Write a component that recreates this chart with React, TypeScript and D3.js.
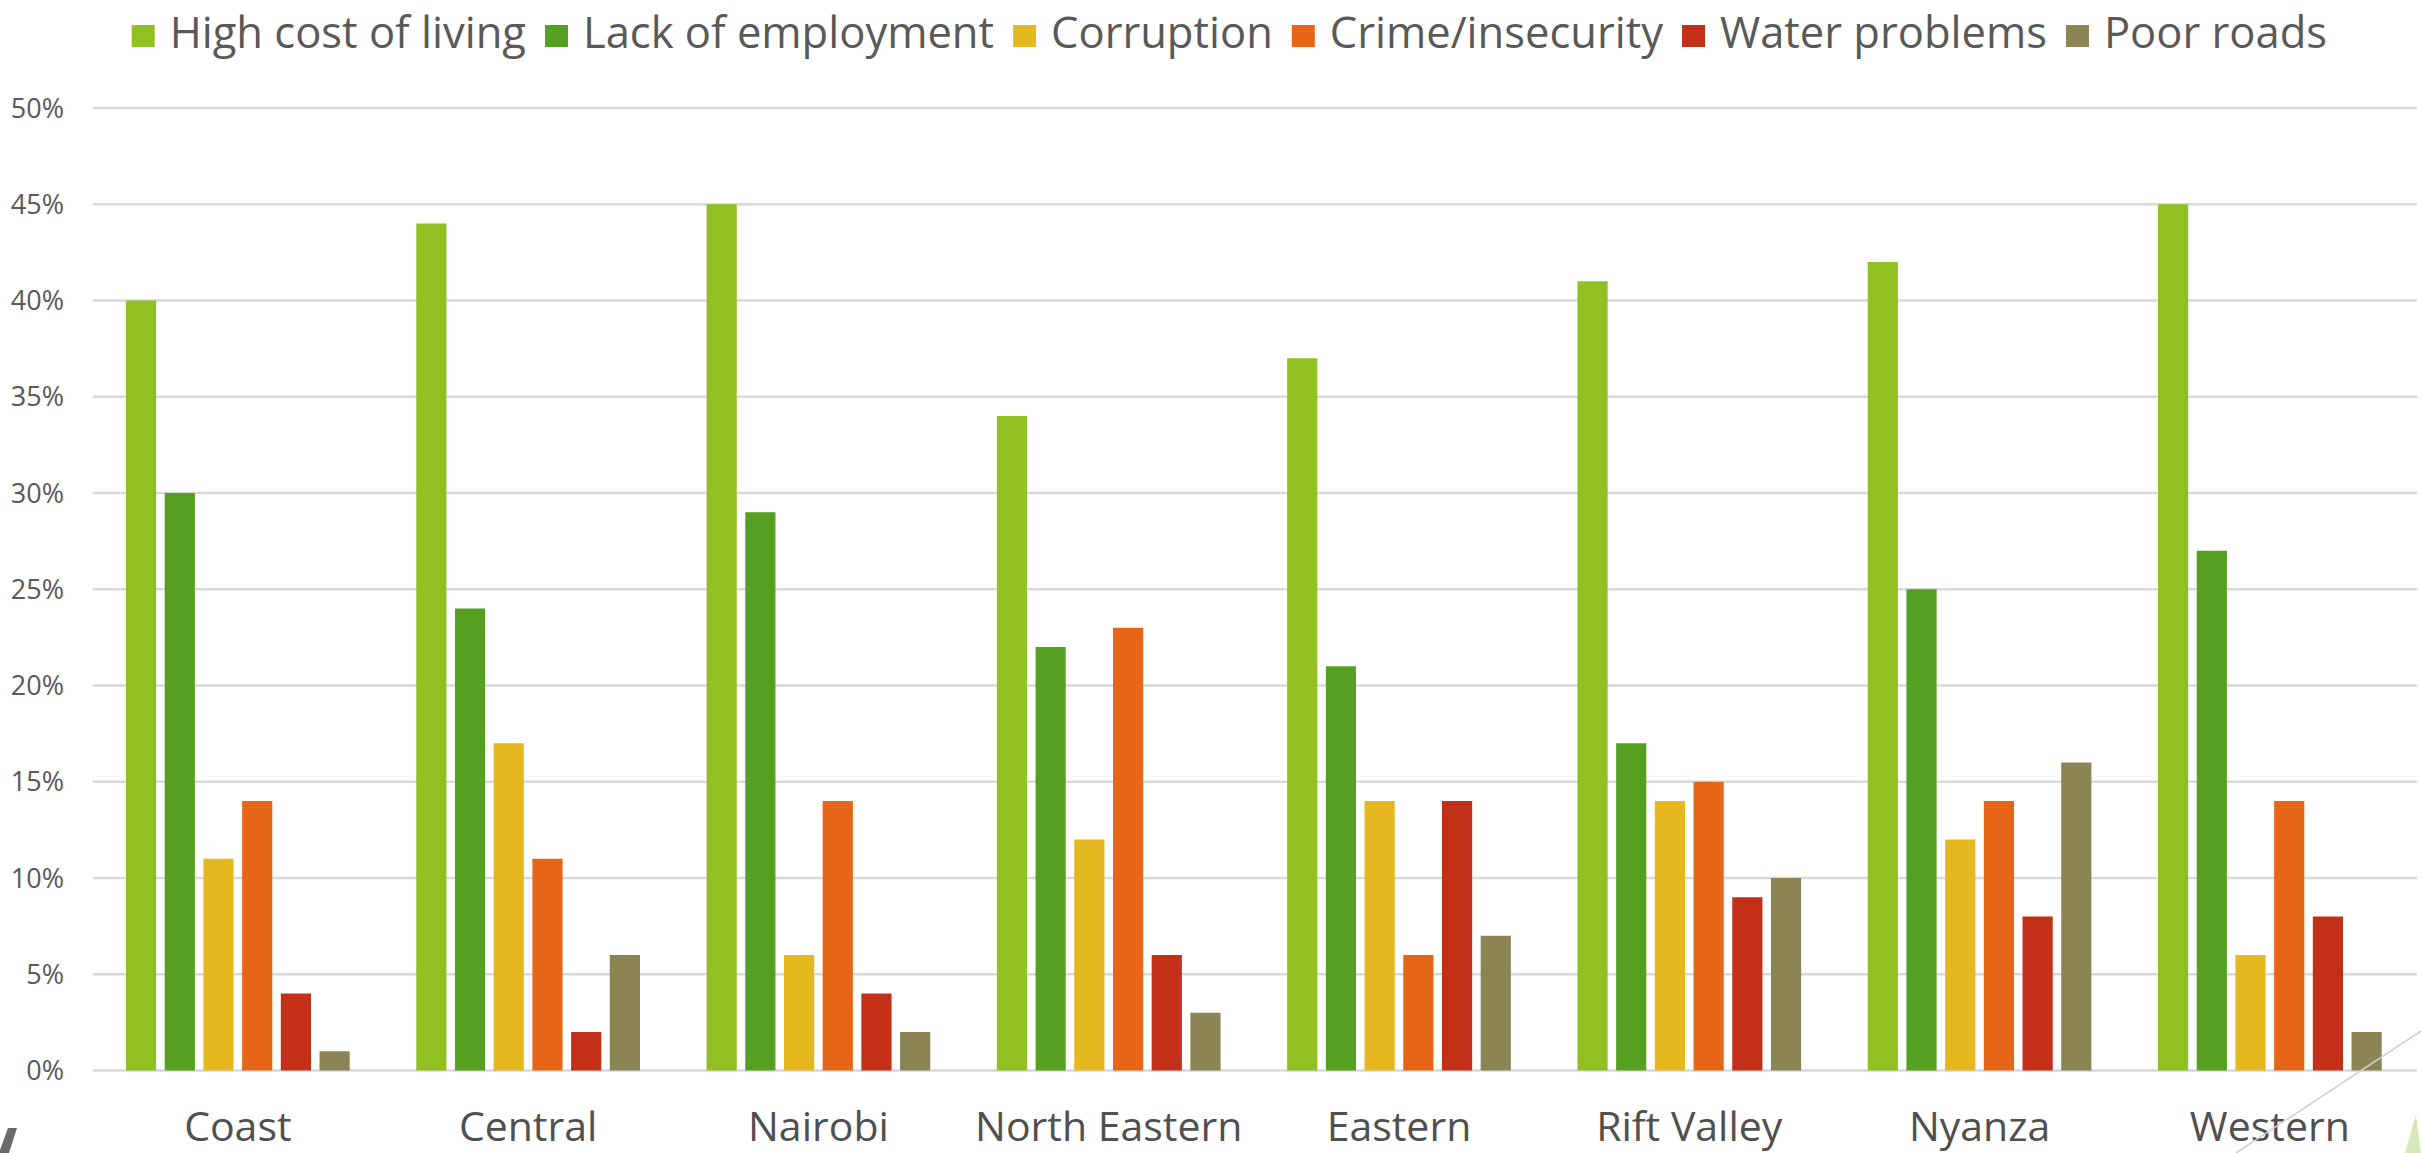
import React, { useEffect, useRef } from 'react';
import * as d3 from 'd3';

const regions = ['Coast', 'Central', 'Nairobi', 'North Eastern', 'Eastern', 'Rift Valley', 'Nyanza', 'Western'];
const seriesNames = ['High cost of living', 'Lack of employment', 'Corruption', 'Crime/insecurity', 'Water problems', 'Poor roads'];
const highCostOfLiving = [40, 44, 45, 34, 37, 41, 42, 45];
const lackOfEmployment = [30, 24, 29, 22, 21, 17, 25, 27];
const corruption = [11, 17, 6, 12, 14, 14, 12, 6];
const crimeInsecurity = [14, 11, 14, 23, 6, 15, 14, 14];
const waterProblems = [4, 2, 4, 6, 14, 9, 8, 8];
const poorRoads = [1, 6, 2, 3, 7, 10, 16, 2];
const yTicks = [0, 5, 10, 15, 20, 25, 30, 35, 40, 45, 50];
const seriesColors = ['#91c023', '#55a021', '#e6b820', '#e66618', '#c42f19', '#8b8455'];

const seriesValues = [highCostOfLiving, lackOfEmployment, corruption, crimeInsecurity, waterProblems, poorRoads];

const W = 2421;
const H = 1153;
const FONT = "'Open Sans', 'DejaVu Sans', sans-serif";

export default function App() {
  const ref = useRef<SVGSVGElement | null>(null);

  useEffect(() => {
    document.body.style.margin = '0';
    const svg = d3.select(ref.current);
    svg.selectAll('*').remove();

    const left = 92.7;
    const right = 2417;
    const x0 = d3.scaleBand<string>().domain(regions).range([left, 2415]).paddingInner(0.2).paddingOuter(0.1);
    const x1 = d3.scaleBand<string>().domain(seriesNames).range([0, x0.bandwidth()]).paddingInner(0.22).paddingOuter(0.11);
    const y = d3.scaleLinear().domain([0, 50]).range([1070.5, 108]);

    svg.append('rect').attr('width', W).attr('height', H).attr('fill', '#ffffff');

    // gridlines
    svg.append('g')
      .selectAll('line')
      .data(yTicks)
      .join('line')
      .attr('x1', left)
      .attr('x2', right)
      .attr('y1', (d) => y(d))
      .attr('y2', (d) => y(d))
      .attr('stroke', '#d9d9d9')
      .attr('stroke-width', 2.5);

    // y tick labels
    svg.append('g')
      .selectAll('text')
      .data(yTicks)
      .join('text')
      .attr('x', 64)
      .attr('y', (d) => y(d))
      .attr('dy', '0.36em')
      .attr('text-anchor', 'end')
      .attr('font-family', FONT)
      .attr('font-size', 27)
      .attr('fill', '#595959')
      .text((d) => `${d}%`);

    // bars
    const groups = svg.append('g')
      .selectAll('g')
      .data(regions)
      .join('g')
      .attr('transform', (d) => `translate(${x0(d)},0)`);

    groups.selectAll('rect')
      .data((region) => {
        const ri = regions.indexOf(region as string);
        return seriesNames.map((s, si) => ({ s, si, v: seriesValues[si][ri] }));
      })
      .join('rect')
      .attr('x', (d) => x1(d.s) as number)
      .attr('width', x1.bandwidth())
      .attr('y', (d) => y(d.v))
      .attr('height', (d) => y(0) - y(d.v))
      .attr('fill', (d) => seriesColors[d.si]);

    // x labels
    svg.append('g')
      .selectAll('text')
      .data(regions)
      .join('text')
      .attr('x', (d) => (x0(d) as number) + x0.bandwidth() / 2)
      .attr('y', 1141)
      .attr('text-anchor', 'middle')
      .attr('font-family', FONT)
      .attr('font-size', 41)
      .attr('fill', '#505050')
      .text((d) => d);

    // legend (flow layout)
    const lg = svg.append('g');
    let cx = 131.7;
    seriesNames.forEach((name, i) => {
      lg.append('rect')
        .attr('x', cx)
        .attr('y', 25)
        .attr('width', 23)
        .attr('height', 22)
        .attr('fill', seriesColors[i]);
      const t = lg.append('text')
        .attr('x', cx + 23 + 15)
        .attr('y', 47.5)
        .attr('font-family', FONT)
        .attr('font-size', 43.5)
        .attr('fill', '#595959')
        .text(name);
      const len = (t.node() as SVGTextElement).getComputedTextLength();
      cx = cx + 23 + 15 + len + 19;
    });

    // image artifacts
    svg.append('polygon')
      .attr('points', '0,1150 8,1128 17,1128 9,1153 0,1153')
      .attr('fill', '#6b6b6b');
    svg.append('line')
      .attr('x1', 2421).attr('y1', 1031).attr('x2', 2236).attr('y2', 1153)
      .attr('stroke', '#d0d0d0').attr('stroke-width', 1.5);
    svg.append('polygon')
      .attr('points', '2416,1115 2405,1153 2421,1153')
      .attr('fill', '#d4e8b8');
  }, []);

  return (
    <svg
      ref={ref}
      width={W}
      height={H}
      viewBox={`0 0 ${W} ${H}`}
      style={{ display: 'block', position: 'absolute', left: 0, top: 0 }}
    />
  );
}
